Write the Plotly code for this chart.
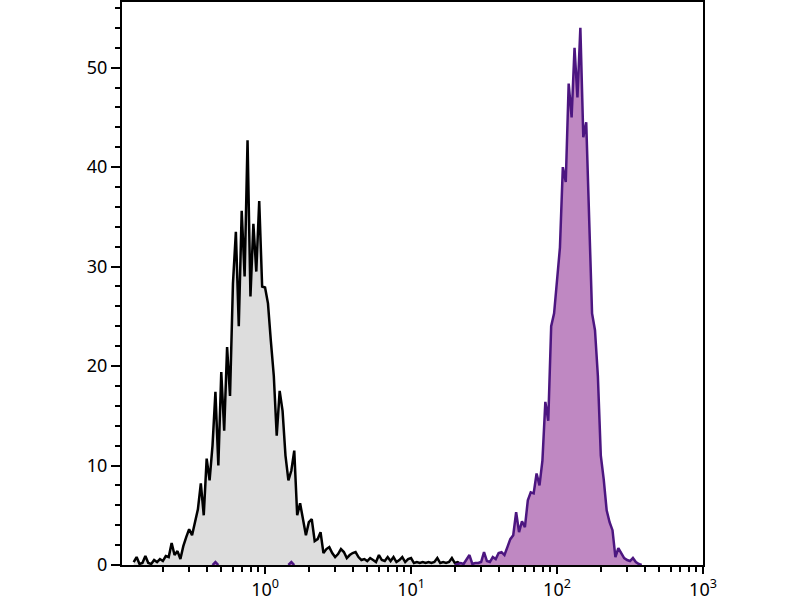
import plotly.graph_objects as go

# Fluorescence intensity channels (log-spaced)
intensity = [
    0.1259, 0.1318, 0.1380, 0.1445, 0.1514, 0.1585, 0.1660, 0.1738, 0.1820, 0.1905,
    0.1995, 0.2089, 0.2188, 0.2291, 0.2399, 0.2512, 0.2630, 0.2754, 0.2884, 0.3020,
    0.3162, 0.3311, 0.3467, 0.3631, 0.3802, 0.3981, 0.4169, 0.4365, 0.4571, 0.4786,
    0.5012, 0.5248, 0.5495, 0.5754, 0.6026, 0.6310, 0.6607, 0.6918, 0.7244, 0.7586,
    0.7943, 0.8318, 0.8710, 0.9120, 0.9550, 1.000, 1.047, 1.096, 1.148, 1.202,
    1.259, 1.318, 1.380, 1.445, 1.514, 1.585, 1.660, 1.738, 1.820, 1.905,
    1.995, 2.089, 2.188, 2.291, 2.399, 2.512, 2.630, 2.754, 2.884, 3.020,
    3.162, 3.311, 3.467, 3.631, 3.802, 3.981, 4.169, 4.365, 4.571, 4.786,
    5.012, 5.248, 5.495, 5.754, 6.026, 6.310, 6.607, 6.918, 7.244, 7.586,
    7.943, 8.318, 8.710, 9.120, 9.550, 10.00, 10.47, 10.96, 11.48, 12.02,
    12.59, 13.18, 13.80, 14.45, 15.14, 15.85, 16.60, 17.38, 18.20, 19.05,
    19.95, 20.89, 21.88, 22.91, 23.99, 25.12, 26.30, 27.54, 28.84, 30.20,
    31.62, 33.11, 34.67, 36.31, 38.02, 39.81, 41.69, 43.65, 45.71, 47.86,
    50.12, 52.48, 54.95, 57.54, 60.26, 63.10, 66.07, 69.18, 72.44, 75.86,
    79.43, 83.18, 87.10, 91.20, 95.50, 100.0, 104.7, 109.6, 114.8, 120.2,
    125.9, 131.8, 138.0, 144.5, 151.4, 158.5, 166.0, 173.8, 182.0, 190.5,
    199.5, 208.9, 218.8, 229.1, 239.9, 251.2, 263.0, 275.4, 288.4, 302.0,
    316.2, 331.1, 346.7, 363.1, 380.2, 398.1,
]

# Unstained / isotype control (grey histogram)
control_counts = [
    0.3, 0.8, 0.1, 0.2, 0.9, 0.2, 0.1, 0.5, 0.3, 0.6,
    0.4, 0.9, 0.8, 2.2, 1.0, 1.4, 0.6, 1.9, 2.8, 3.6,
    3.0, 4.4, 5.6, 8.2, 5.0, 10.7, 8.5, 12.0, 17.4, 10.0,
    19.4, 13.5, 21.9, 17.0, 28.3, 33.5, 24.0, 35.6, 29.0, 42.7,
    27.0, 34.3, 29.5, 36.6, 28.0, 27.9, 26.3, 22.5, 19.0, 13.0,
    17.5, 15.5, 11.0, 8.5, 9.5, 11.5, 5.0, 6.2, 4.6, 3.0,
    4.3, 4.6, 2.4, 2.6, 3.3, 1.2, 1.6, 1.8, 1.2, 0.8,
    1.1, 1.6, 1.3, 0.7, 1.0, 1.2, 1.3, 0.8, 0.5, 0.6,
    0.4, 0.7, 0.5, 0.3, 1.0, 0.5, 0.4, 0.8, 0.4, 0.8,
    0.3, 0.5, 0.8, 0.3, 0.6, 0.7, 0.2, 0.3, 0.2, 0.3,
    0.2, 0.3, 0.2, 0.3, 0.7, 0.2, 0.3, 0.2, 0.3, 0.7,
    0.2, 0.3, 0.1, 0, None, None, None, None, None, None,
    None, None, None, None, None, None, None, None, None, None,
    None, None, None, None, None, None, None, None, None, None,
    None, None, None, None, None, None, None, None, None, None,
    None, None, None, None, None, None, None, None, None, None,
    None, None, None, None, None, None, None, None, None, None,
    None, None, None, None, None, None,
]

# Stained sample (purple histogram); None = no events recorded in channel
stained_counts = [
    None, None, None, None, None, None, None, None, None, None,
    None, None, None, None, None, None, None, None, None, None,
    None, None, None, None, None, None, None, 0, 0.3, 0,
    None, None, None, None, None, None, None, None, None, None,
    None, None, None, None, None, None, None, None, None, None,
    None, None, None, 0, 0.3, 0, None, None, None, None,
    None, None, None, None, None, None, None, None, None, None,
    None, None, None, None, None, None, None, None, None, None,
    None, None, None, None, None, None, None, None, None, None,
    None, None, None, None, None, None, None, None, None, None,
    None, None, None, None, None, None, None, None, None, None,
    0, 0.1, 0.2, 0.1, 0.6, 1.0, 0.1, 0.2, 0.2, 0.3,
    1.3, 0.4, 0.3, 0.8, 0.6, 1.2, 1.3, 1.0, 1.8, 2.6,
    3.0, 5.3, 3.3, 4.4, 3.8, 6.5, 7.3, 7.2, 9.2, 8.0,
    10.5, 16.4, 14.5, 24.0, 25.3, 28.3, 31.9, 40.0, 38.5, 48.4,
    45.0, 52.0, 47.0, 54.0, 43.0, 44.5, 34.0, 25.3, 23.6, 19.0,
    11.0, 8.6, 5.5, 4.3, 3.5, 0.8, 1.7, 1.2, 0.7, 0.5,
    0.4, 0.7, 0.3, 0.1, 0, None,
]

x_tick_values = [1, 10, 100, 1000]
x_tick_labels = ["10<sup>0</sup>", "10<sup>1</sup>", "10<sup>2</sup>", "10<sup>3</sup>"]
x_minor_values = [0.2, 0.3, 0.4, 0.5, 0.6, 0.7, 0.8, 0.9,
                  2, 3, 4, 5, 6, 7, 8, 9,
                  20, 30, 40, 50, 60, 70, 80, 90,
                  200, 300, 400, 500, 600, 700, 800, 900]
y_tick_values = [0, 10, 20, 30, 40, 50]

tick_font = dict(family="Noto Sans", size=18, color="black")

fig = go.Figure()
fig.add_trace(go.Scatter(
    x=intensity, y=control_counts, mode="lines",
    line=dict(color="black", width=2.5),
    fill="tozeroy", fillcolor="rgb(221,221,221)",
    connectgaps=False, hoverinfo="skip",
))
fig.add_trace(go.Scatter(
    x=intensity, y=stained_counts, mode="lines",
    line=dict(color="rgb(76,22,128)", width=2.5),
    fill="tozeroy", fillcolor="rgb(191,136,194)",
    connectgaps=False, hoverinfo="skip",
))

fig.update_layout(
    width=800, height=600,
    margin=dict(l=122, r=97, t=2, b=35, autoexpand=False),
    plot_bgcolor="white", paper_bgcolor="white",
    showlegend=False,
    font=tick_font,
)
fig.update_xaxes(
    type="log", range=[-0.98, 3.0], automargin=False,
    showline=True, linecolor="black", linewidth=2, mirror=True,
    showgrid=False, zeroline=False,
    ticks="outside", ticklen=7, tickwidth=2, tickcolor="black",
    tickmode="array", tickvals=x_tick_values, ticktext=x_tick_labels,
    tickfont=tick_font,
    minor=dict(ticks="outside", ticklen=5, tickwidth=1.5, tickcolor="black",
               tickmode="array", tickvals=x_minor_values, showgrid=False),
)
fig.update_yaxes(
    range=[0, 56.6], automargin=False,
    showline=True, linecolor="black", linewidth=2, mirror=True,
    showgrid=False, zeroline=False,
    ticks="outside", ticklen=9, tickwidth=2, tickcolor="black",
    tickmode="array", tickvals=y_tick_values,
    tickfont=tick_font,
    minor=dict(ticks="outside", ticklen=5, tickwidth=1.5, tickcolor="black",
               dtick=2, showgrid=False),
)

fig.write_html(
    "out.html",
    config={"displayModeBar": False},
    post_script="document.body.style.margin='0px';document.body.style.overflow='hidden';",
)
